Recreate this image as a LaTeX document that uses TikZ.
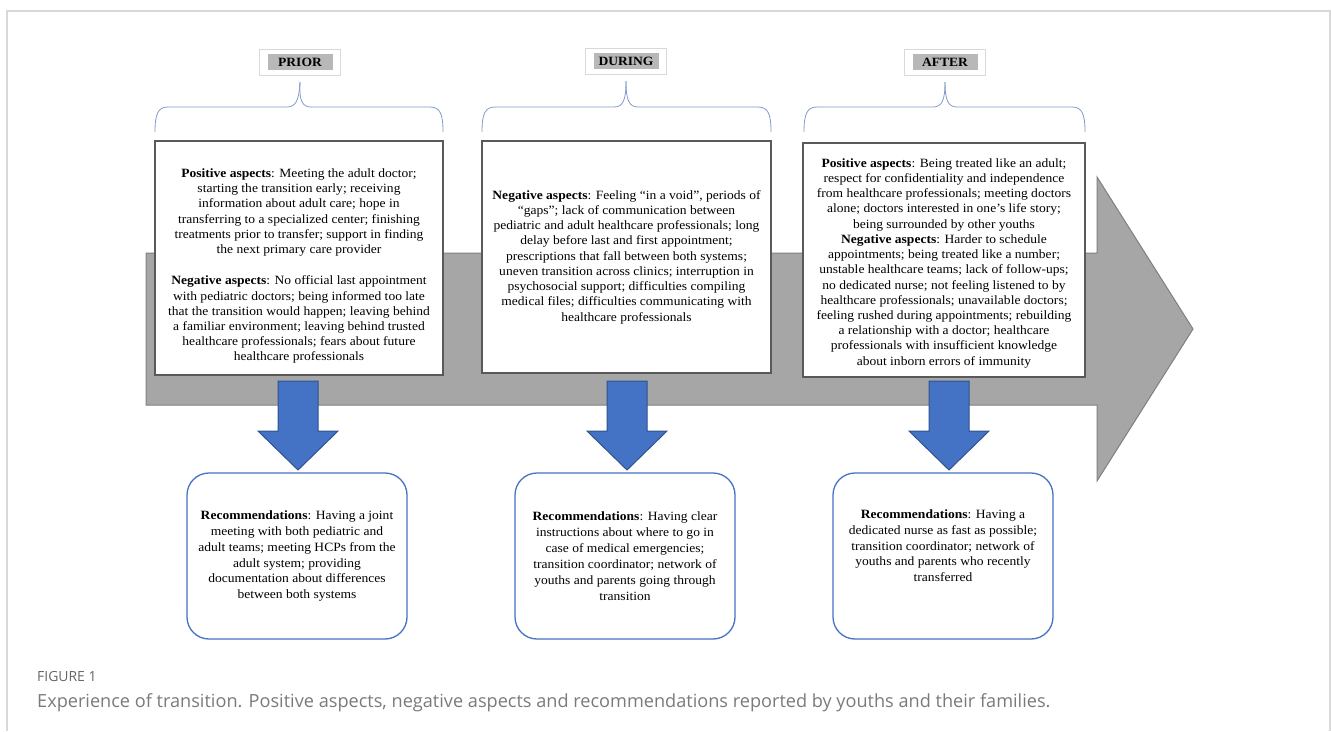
\documentclass[tikz,border=0pt]{standalone}
\usepackage{fontspec}
\setmainfont[FakeStretch=1.07]{Liberation Serif}
\newfontfamily\capfont{Open Sans}

\definecolor{arrowblue}{HTML}{4472C4}
\definecolor{arrowedge}{HTML}{2F528F}
\definecolor{recblue}{HTML}{4472C4}
\definecolor{braceblue}{HTML}{7F9ACB}
\definecolor{capgray}{HTML}{7A7A7A}

\begin{document}
\begin{tikzpicture}[x=1bp,y=-1bp,
  every node/.style={font=\fontsize{12.7}{15.3}\selectfont},
  box/.style={draw=black!65, line width=1.6bp, fill=white, align=center, inner sep=0pt},
  rec/.style={draw=recblue, line width=1.3bp, fill=white, rounded corners=22bp, align=center, inner sep=0pt, font=\fontsize{12.7}{16}\selectfont},
  tag/.style={draw=black!15, fill=white, minimum width=81bp, minimum height=26bp, inner sep=0pt},
  tagtext/.style={fill=black!28, minimum width=65bp, minimum height=16bp, inner sep=0pt, font=\fontsize{12.7}{14}\selectfont\bfseries},
  brace/.style={draw=braceblue, line width=0.8bp},
  down/.style={fill=arrowblue, draw=arrowedge, line width=1bp},
  timeline/.style={fill=black!35, draw=black!50, line width=1bp},
  frame/.style={draw=black!15, line width=1.3bp},
  caption/.style={anchor=base west, inner sep=0pt, text=capgray}]
\useasboundingbox (0,0) rectangle (1331,731);
\draw[frame] (7,731) -- (7,11) -- (1330,11) -- (1330,731);

% the time line behind the boxes
\draw[timeline] (146,253) -- (1097,253) -- (1097,177) -- (1193,329) -- (1097,481) -- (1097,405) -- (146,405) -- cycle;

% phase labels
\node[tag] (priorframe) at (300,62) {};
\node[tagtext] (priortag) at (priorframe) {PRIOR};
\node[tag] (duringframe) at (626,61) {};
\node[tagtext] (duringtag) at (duringframe) {DURING};
\node[tag] (afterframe) at (945,62) {};
\node[tagtext] (aftertag) at (afterframe) {AFTER};

% aspects per phase (the rule on the first line pushes the text down a bit)
\node[box, minimum width=288bp, minimum height=234bp] (prior) at (299,258) {%
\rule{0pt}{25bp}\textbf{Positive aspects}: Meeting the adult doctor;\\
starting the transition early; receiving\\
information about adult care; hope in\\
transferring to a specialized center; finishing\\
treatments prior to transfer; support in finding\\
the next primary care provider\\[16bp]
\textbf{Negative aspects}: No official last appointment\\
with pediatric doctors; being informed too late\\
that the transition would happen; leaving behind\\
a familiar environment; leaving behind trusted\\
healthcare professionals; fears about future\\
healthcare professionals};
\node[box, minimum width=289bp, minimum height=232bp] (during) at (626.5,257) {%
\textbf{Negative aspects}: Feeling “in a void”, periods of\\
“gaps”; lack of communication between\\
pediatric and adult healthcare professionals; long\\
delay before last and first appointment;\\
prescriptions that fall between both systems;\\
uneven transition across clinics; interruption in\\
psychosocial support; difficulties compiling\\
medical files; difficulties communicating with\\
healthcare professionals};
\node[box, minimum width=282bp, minimum height=234bp] (after) at (944,260) {%
\rule{0pt}{15bp}\textbf{Positive aspects}: Being treated like an adult;\\
respect for confidentiality and independence\\
from healthcare professionals; meeting doctors\\
alone; doctors interested in one’s life story;\\
being surrounded by other youths\\
\textbf{Negative aspects}: Harder to schedule\\
appointments; being treated like a number;\\
unstable healthcare teams; lack of follow-ups;\\
no dedicated nurse; not feeling listened to by\\
healthcare professionals; unavailable doctors;\\
feeling rushed during appointments; rebuilding\\
a relationship with a doctor; healthcare\\
professionals with insufficient knowledge\\
about inborn errors of immunity};

% braces from the labels
\foreach \t/\l/\m/\r in {priortag/155/299/443, duringtag/482/626/771, aftertag/804/945/1085} {
  \draw[brace] ([yshift=-12bp]\t.south) .. controls (\m,100) and ({\m-3},107) .. ({\m-12},107) -- ({\l+13},107) .. controls ({\l+3},107) and (\l,114) .. (\l,132);
  \draw[brace] ([yshift=-12bp]\t.south) .. controls (\m,100) and ({\m+3},107) .. ({\m+12},107) -- ({\r-13},107) .. controls ({\r-3},107) and (\r,114) .. (\r,132);
}

% down arrows
\foreach \c in {298,627,949} {
  \draw[down] ({\c-20},381) -- ({\c-20},431) -- ({\c-40},431) -- (\c,470) -- ({\c+40},431) -- ({\c+20},431) -- ({\c+20},381) -- cycle;
}

% recommendations
\node[rec, minimum width=220bp, minimum height=166bp] (priorrec) at (297,556) {%
\textbf{Recommendations}: Having a joint\\
meeting with both pediatric and\\
adult teams; meeting HCPs from the\\
adult system; providing\\
documentation about differences\\
between both systems};
\node[rec, minimum width=220bp, minimum height=166bp] (duringrec) at (625,556) {%
\textbf{Recommendations}: Having clear\\
instructions about where to go in\\
case of medical emergencies;\\
transition coordinator; network of\\
youths and parents going through\\
transition};
% empty last line keeps the text at the top like the others
\node[rec, minimum width=220bp, minimum height=166bp] (afterrec) at (943,556) {%
\textbf{Recommendations}: Having a\\
dedicated nurse as fast as possible;\\
transition coordinator; network of\\
youths and parents who recently\\
transferred\\
\strut};

% caption
\node[caption, text=black!60, font=\capfont\fontsize{14}{16}\selectfont] (fignum) at (37,681) {FIGURE 1};
\node[caption, font=\capfont\fontsize{18.2}{20}\selectfont] (figcap) at (37,707) {Experience of transition. Positive aspects, negative aspects and recommendations reported by youths and their families.};
\end{tikzpicture}
\end{document}
